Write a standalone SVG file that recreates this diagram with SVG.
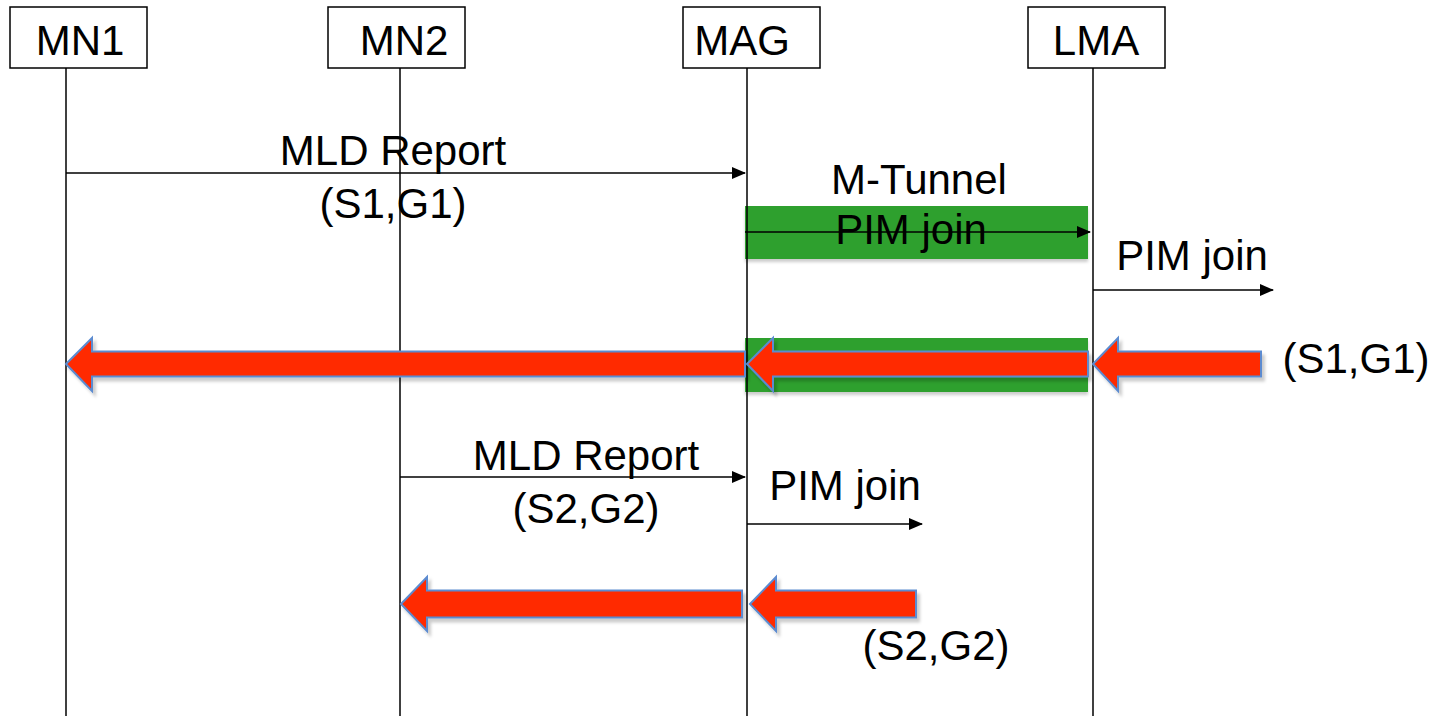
<svg xmlns="http://www.w3.org/2000/svg" width="1441" height="716" viewBox="0 0 1441 716">
<defs>
<style>
.box{fill:#fff;stroke:#000;stroke-width:1.5}
.life{stroke:#000;stroke-width:1.5;fill:none}
.msg{stroke:#000;stroke-width:1.5;fill:none;marker-end:url(#ah)}
.t{font-family:"Liberation Sans",Arial,sans-serif;font-size:42px;fill:#000;text-anchor:middle}
.big{fill:#FF2A00;stroke:#5B8BD0;stroke-width:2;stroke-linejoin:miter;filter:url(#sh)}
.tun{fill:#2DA02D;filter:url(#sh2)}
</style>
<marker id="ah" markerWidth="14" markerHeight="12" refX="13" refY="6" orient="auto" markerUnits="userSpaceOnUse">
<path d="M0,0 L14,6 L0,12 Z" fill="#000"/>
</marker>
<filter id="sh" x="-5%" y="-30%" width="110%" height="170%">
<feDropShadow dx="3" dy="4" stdDeviation="1.5" flood-color="#000" flood-opacity="0.2"/>
</filter>
<filter id="sh2" x="-5%" y="-30%" width="110%" height="170%">
<feDropShadow dx="0" dy="3" stdDeviation="1.5" flood-color="#000" flood-opacity="0.2"/>
</filter>
</defs>
<rect width="1441" height="716" fill="#fff"/>

<g id="tunnels">
<rect class="tun" x="745" y="206" width="343" height="53"/>
<rect class="tun" x="745" y="338" width="343" height="54"/>
</g>

<g id="MN1">
<rect class="box" x="10" y="7" width="137" height="61"/>
<text class="t" x="80" y="55">MN1</text>
<line class="life" x1="66" y1="68" x2="66" y2="716"/>
</g>
<g id="MN2">
<rect class="box" x="328" y="7" width="137" height="61"/>
<text class="t" x="404" y="55">MN2</text>
<line class="life" x1="400" y1="68" x2="400" y2="716"/>
</g>
<g id="MAG">
<rect class="box" x="683" y="7" width="137" height="61"/>
<text class="t" x="742" y="55">MAG</text>
<line class="life" x1="747" y1="68" x2="747" y2="716"/>
</g>
<g id="LMA">
<rect class="box" x="1028" y="7" width="137" height="61"/>
<text class="t" x="1096" y="55">LMA</text>
<line class="life" x1="1093" y1="68" x2="1093" y2="716"/>
</g>

<g id="connectors">
<line class="msg" x1="66" y1="173" x2="745" y2="173"/>
<line class="msg" x1="745" y1="232" x2="1090" y2="232"/>
<line class="msg" x1="1093" y1="290" x2="1273" y2="290"/>
<line class="msg" x1="400" y1="477" x2="745" y2="477"/>
<line class="msg" x1="747" y1="524" x2="922" y2="524"/>

<path class="big" d="M66,364 L92,338 L92,351.5 L745,351.5 L745,376.5 L92,376.5 L92,391 Z"/>
<path class="big" d="M747,364 L773,338 L773,351.5 L1088,351.5 L1088,376.5 L773,376.5 L773,391 Z"/>
<path class="big" d="M1093,364 L1118,338 L1118,351.5 L1261,351.5 L1261,376.5 L1118,376.5 L1118,391 Z"/>
<path class="big" d="M401,604 L427,577 L427,590.5 L742,590.5 L742,617.5 L427,617.5 L427,631 Z"/>
<path class="big" d="M750,604 L776,577 L776,590.5 L916,590.5 L916,617.5 L776,617.5 L776,631 Z"/>
</g>

<g id="labels">
<text class="t" x="393" y="165">MLD Report</text>
<text class="t" x="393" y="218">(S1,G1)</text>
<text class="t" x="919" y="194">M-Tunnel</text>
<text class="t" x="911" y="244">PIM join</text>
<text class="t" x="1192" y="270">PIM join</text>
<text class="t" x="1356" y="373">(S1,G1)</text>
<text class="t" x="586" y="470">MLD Report</text>
<text class="t" x="586" y="523">(S2,G2)</text>
<text class="t" x="845" y="500">PIM join</text>
<text class="t" x="936" y="660">(S2,G2)</text>
</g>
</svg>
